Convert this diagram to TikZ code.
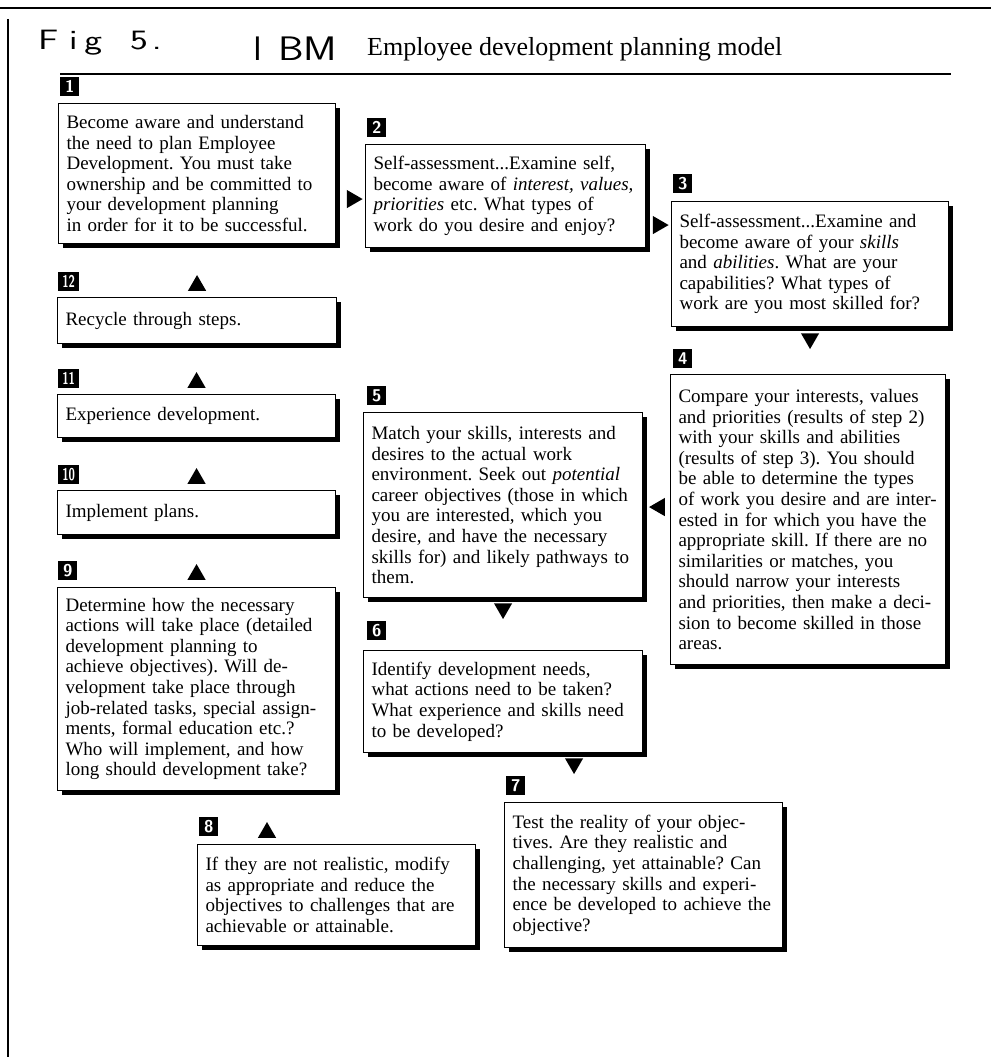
\documentclass[tikz,border=0pt]{standalone}
\usepackage{fontspec}
\setmainfont{Liberation Serif}
\usetikzlibrary{positioning, shapes.geometric, shadows, calc}

\begin{document}
\frenchspacing
\begin{tikzpicture}[
  x=1pt, y=-1pt,
  card/.style={draw, line width=1.1pt, fill=white, anchor=north west, align=left,
    inner xsep=8pt, font=\fontsize{19}{20.6}\selectfont,
    drop shadow={shadow xshift=4pt, shadow yshift=-4pt, fill=black, opacity=1}},
  num/.style={fill=black, text=white, inner sep=0pt, minimum width=19pt, minimum height=19pt,
    font=\sffamily\bfseries\fontsize{17}{17}\selectfont},
  tri/.style={regular polygon, regular polygon sides=3, fill=black, inner sep=0pt, minimum size=21pt},
  tup/.style={tri},
  tdown/.style={tri, shape border rotate=180},
  tleft/.style={tri, shape border rotate=90},
  tright/.style={tri, shape border rotate=-90},
  plain/.style={anchor=base west, inner sep=0pt},
]
\useasboundingbox (0,0) rectangle (991,1057);

% Header — page edge, handwriting, title
\draw[line width=2.5pt] (0,8) -- (991,8);
\draw[line width=1.3pt] (8,19) -- (8,1057);
\node[plain, font=\sffamily\fontsize{28}{28}\selectfont] (fig) at (38,49) {\scalebox{1.35}[1]{F\kern8pt i\kern5pt g}\hspace{28pt}\scalebox{1.35}[1]{5\kern3pt.}};
\node[plain, font=\sffamily\fontsize{34}{34}\selectfont] (ibm) at (253,60) {I\hspace{16pt}\scalebox{1.2}[1]{BM}};
\node[plain, font=\fontsize{26}{26}\selectfont] (title) at (367,56) {Employee development planning model};
\draw[line width=1.6pt] (60,74) -- (951,74);

% Steps 1--3 — self-assessment
\node[card, text width=261pt, minimum height=140pt] (b1) at (58,103) {Become aware and understand\\the need to plan Employee\\Development. You must take\\ownership and be committed to\\your development planning\\in order for it to be successful.};
\node[card, text width=264pt, minimum height=103pt] (b2) at (365,144) {Self-assessment...Examine self,\\become aware of \textit{interest, values,}\\\textit{priorities} etc. What types of\\work do you desire and enjoy?};
\node[card, text width=261pt, minimum height=125pt] (b3) at (671,201) {Self-assessment...Examine and\\become aware of your \textit{skills}\\and \textit{abilities}. What are your\\capabilities? What types of\\work are you most skilled for?};

% Steps 4--7 — matching and testing
\node[card, text width=259pt, minimum height=290pt] (b4) at (670,374) {Compare your interests, values\\and priorities (results of step 2)\\with your skills and abilities\\(results of step 3). You should\\be able to determine the types\\of work you desire and are inter-\\ested in for which you have the\\appropriate skill. If there are no\\similarities or matches, you\\should narrow your interests\\and priorities, then make a deci-\\sion to become skilled in those\\areas.};
\node[card, text width=263pt, minimum height=185pt] (b5) at (363,412) {Match your skills, interests and\\desires to the actual work\\environment. Seek out \textit{potential}\\career objectives (those in which\\you are interested, which you\\desire, and have the necessary\\skills for) and likely pathways to\\them.};
\node[card, text width=263pt, minimum height=102pt] (b6) at (363,650) {Identify development needs,\\what actions need to be taken?\\What experience and skills need\\to be developed?};
\node[card, text width=262pt, minimum height=145pt] (b7) at (504,802) {Test the reality of your objec-\\tives. Are they realistic and\\challenging, yet attainable? Can\\the necessary skills and experi-\\ence be developed to achieve the\\objective?};

% Steps 8--12 — planning and recycling
\node[card, text width=262pt, minimum height=101pt] (b8) at (197,844) {If they are not realistic, modify\\as appropriate and reduce the\\objectives to challenges that are\\achievable or attainable.};
\node[card, text width=262pt, minimum height=203pt] (b9) at (57,587) {Determine how the necessary\\actions will take place (detailed\\development planning to\\achieve objectives). Will de-\\velopment take place through\\job-related tasks, special assign-\\ments, formal education etc.?\\Who will implement, and how\\long should development take?};
\node[card, text width=262pt, minimum height=44pt] (b10) at (57,490) {Implement plans.};
\node[card, text width=262pt, minimum height=43pt] (b11) at (57,394) {Experience development.};
\node[card, text width=263pt, minimum height=46pt] (b12) at (57,297) {Recycle through steps.};

% step numbers
\node[num, above right=7pt and 2pt of b1.north west] (n1) {1};
\node[num, above right=7pt and 2pt of b2.north west] (n2) {2};
\node[num, above right=8pt and 2pt of b3.north west] (n3) {3};
\node[num, above right=6pt and 3pt of b4.north west] (n4) {4};
\node[num, above right=7pt and 4pt of b5.north west] (n5) {5};
\node[num, above right=10pt and 4pt of b6.north west] (n6) {6};
\node[num, above right=7pt and 2pt of b7.north west] (n7) {7};
\node[num, above right=8pt and 2pt of b8.north west] (n8) {8};
\node[num, above right=7pt and 1pt of b9.north west] (n9) {9};
\node[num, minimum width=21pt, above right=6pt and 1pt of b10.north west] (n10) {\scalebox{0.68}[1]{10}};
\node[num, minimum width=21pt, above right=6pt and 1pt of b11.north west] (n11) {\scalebox{0.68}[1]{11}};
\node[num, minimum width=21pt, above right=6pt and 1pt of b12.north west] (n12) {\scalebox{0.68}[1]{12}};

% arrows between steps
\node[tright, left=2pt of b2.west, yshift=-3pt] (a12) {};
\node[tright, left=2pt of b3.west, yshift=39pt] (a23) {};
\node[tdown, below=6pt of b3] (a34) {};
\node[tleft, left=5pt of b4.west, yshift=12.5pt] (a45) {};
\node[tdown, below=5pt of b5] (a56) {};
\node[tdown, below=5pt of b6, xshift=71pt] (a67) {};
\node[tup, above=6pt of b8.north west, xshift=70pt] (a89) {};
\node[tup, above=7pt of b9] (a910) {};
\node[tup, above=6pt of b10] (a1011) {};
\node[tup, above=6pt of b11] (a1112) {};
\node[tup, above=6pt of b12] (a121) {};

\end{tikzpicture}
\end{document}
